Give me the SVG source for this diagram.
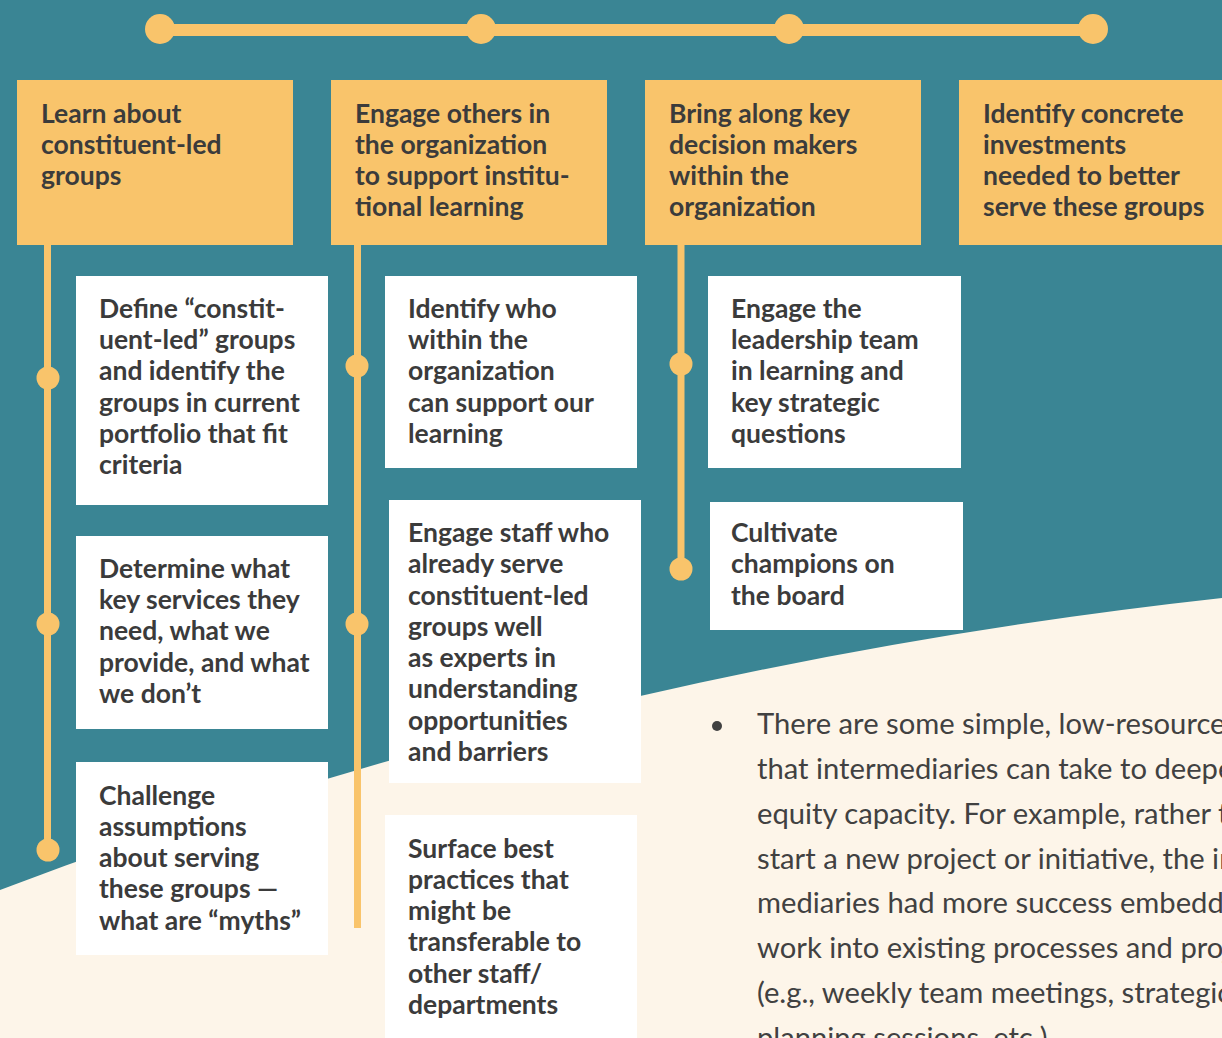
<svg xmlns="http://www.w3.org/2000/svg" width="1222" height="1038" viewBox="0 0 1222 1038">
<style>
.hdr{fill:#F9C46B}
.box{fill:#FFFFFF}
.t{font-family:Lato,"Liberation Sans",sans-serif;font-weight:700;font-size:26.5px;fill:#3B3B3B}
.p{font-family:Lato,"Liberation Sans",sans-serif;font-weight:400;font-size:29.2px;fill:#414141}
.ln{stroke:#F9C46B;fill:none}
.dot{fill:#F9C46B}
</style>
<rect x="0" y="0" width="1222" height="1038" fill="#3A8594"/>
<path d="M0,890 Q584,668 1222,598 L1222,1038 L0,1038 Z" fill="#FDF5E9"/>
<g id="connectors">
<line class="ln" x1="160" y1="30" x2="1093" y2="30" stroke-width="12"/>
<circle class="dot" cx="160" cy="29" r="15"/>
<circle class="dot" cx="481" cy="29" r="15"/>
<circle class="dot" cx="789" cy="29" r="15"/>
<circle class="dot" cx="1093" cy="29" r="15"/>
<line class="ln" x1="47.5" y1="245" x2="47.5" y2="850" stroke-width="7"/>
<circle class="dot" cx="48" cy="378" r="11.5"/>
<circle class="dot" cx="48" cy="624" r="11.5"/>
<circle class="dot" cx="48" cy="850" r="11.5"/>
<line class="ln" x1="357.5" y1="245" x2="357.5" y2="928" stroke-width="7"/>
<circle class="dot" cx="357" cy="366" r="11.5"/>
<circle class="dot" cx="357" cy="624" r="11.5"/>
<line class="ln" x1="681" y1="245" x2="681" y2="569" stroke-width="7"/>
<circle class="dot" cx="681" cy="364" r="11.5"/>
<circle class="dot" cx="681" cy="569" r="11.5"/>
</g>
<g id="h1"><rect class="hdr" x="17" y="80" width="276" height="165"/>
<text class="t"><tspan x="41" y="123">Learn about</tspan><tspan x="41" y="154">constituent-led</tspan><tspan x="41" y="185">groups</tspan></text></g>
<g id="h2"><rect class="hdr" x="331" y="80" width="276" height="165"/>
<text class="t"><tspan x="355" y="123">Engage others in</tspan><tspan x="355" y="154">the organization</tspan><tspan x="355" y="185">to support institu-</tspan><tspan x="355" y="216">tional learning</tspan></text></g>
<g id="h3"><rect class="hdr" x="645" y="80" width="276" height="165"/>
<text class="t"><tspan x="669" y="123">Bring along key</tspan><tspan x="669" y="154">decision makers</tspan><tspan x="669" y="185">within the</tspan><tspan x="669" y="216">organization</tspan></text></g>
<g id="h4"><rect class="hdr" x="959" y="80" width="276" height="165"/>
<text class="t"><tspan x="983" y="123">Identify concrete</tspan><tspan x="983" y="154">investments</tspan><tspan x="983" y="185">needed to better</tspan><tspan x="983" y="216">serve these groups</tspan></text></g>
<g id="a1"><rect class="box" x="76" y="276" width="252" height="229"/>
<text class="t"><tspan x="99" y="318">Define “constit-</tspan><tspan x="99" y="349">uent-led” groups</tspan><tspan x="99" y="380">and identify the</tspan><tspan x="99" y="412">groups in current</tspan><tspan x="99" y="443">portfolio that fit</tspan><tspan x="99" y="474">criteria</tspan></text></g>
<g id="a2"><rect class="box" x="76" y="536" width="252" height="193"/>
<text class="t"><tspan x="99" y="578">Determine what</tspan><tspan x="99" y="609">key services they</tspan><tspan x="99" y="640">need, what we</tspan><tspan x="99" y="672">provide, and what</tspan><tspan x="99" y="703">we don’t</tspan></text></g>
<g id="a3"><rect class="box" x="76" y="762" width="252" height="193"/>
<text class="t"><tspan x="99" y="805">Challenge</tspan><tspan x="99" y="836">assumptions</tspan><tspan x="99" y="867">about serving</tspan><tspan x="99" y="898">these groups —</tspan><tspan x="99" y="930">what are “myths”</tspan></text></g>
<g id="b1"><rect class="box" x="385" y="276" width="252" height="192"/>
<text class="t"><tspan x="408" y="318">Identify who</tspan><tspan x="408" y="349">within the</tspan><tspan x="408" y="380">organization</tspan><tspan x="408" y="412">can support our</tspan><tspan x="408" y="443">learning</tspan></text></g>
<g id="b2"><rect class="box" x="389" y="500" width="252" height="283"/>
<text class="t"><tspan x="408" y="542">Engage staff who</tspan><tspan x="408" y="573">already serve</tspan><tspan x="408" y="605">constituent-led</tspan><tspan x="408" y="636">groups well</tspan><tspan x="408" y="667">as experts in</tspan><tspan x="408" y="698">understanding</tspan><tspan x="408" y="730">opportunities</tspan><tspan x="408" y="761">and barriers</tspan></text></g>
<g id="b3"><rect class="box" x="385" y="815" width="252" height="240"/>
<text class="t"><tspan x="408" y="858">Surface best</tspan><tspan x="408" y="889">practices that</tspan><tspan x="408" y="920">might be</tspan><tspan x="408" y="951">transferable to</tspan><tspan x="408" y="983">other staff/</tspan><tspan x="408" y="1014">departments</tspan></text></g>
<g id="c1"><rect class="box" x="708" y="276" width="253" height="192"/>
<text class="t"><tspan x="731" y="318">Engage the</tspan><tspan x="731" y="349">leadership team</tspan><tspan x="731" y="380">in learning and</tspan><tspan x="731" y="412">key strategic</tspan><tspan x="731" y="443">questions</tspan></text></g>
<g id="c2"><rect class="box" x="710" y="502" width="253" height="128"/>
<text class="t"><tspan x="731" y="542">Cultivate</tspan><tspan x="731" y="573">champions on</tspan><tspan x="731" y="605">the board</tspan></text></g>
<g id="note">
<circle cx="717" cy="726" r="5" fill="#414141"/>
<text class="p"><tspan x="757" y="734">There are some simple, low-resource</tspan><tspan x="757" y="779">that intermediaries can take to deepe</tspan><tspan x="757" y="824">equity capacity. For example, rather t</tspan><tspan x="757" y="869">start a new project or initiative, the in</tspan><tspan x="757" y="913">mediaries had more success embedd</tspan><tspan x="757" y="958">work into existing processes and proj</tspan><tspan x="757" y="1003">(e.g., weekly team meetings, strategic</tspan><tspan x="757" y="1048">planning sessions, etc.)</tspan></text>
</g>
</svg>
